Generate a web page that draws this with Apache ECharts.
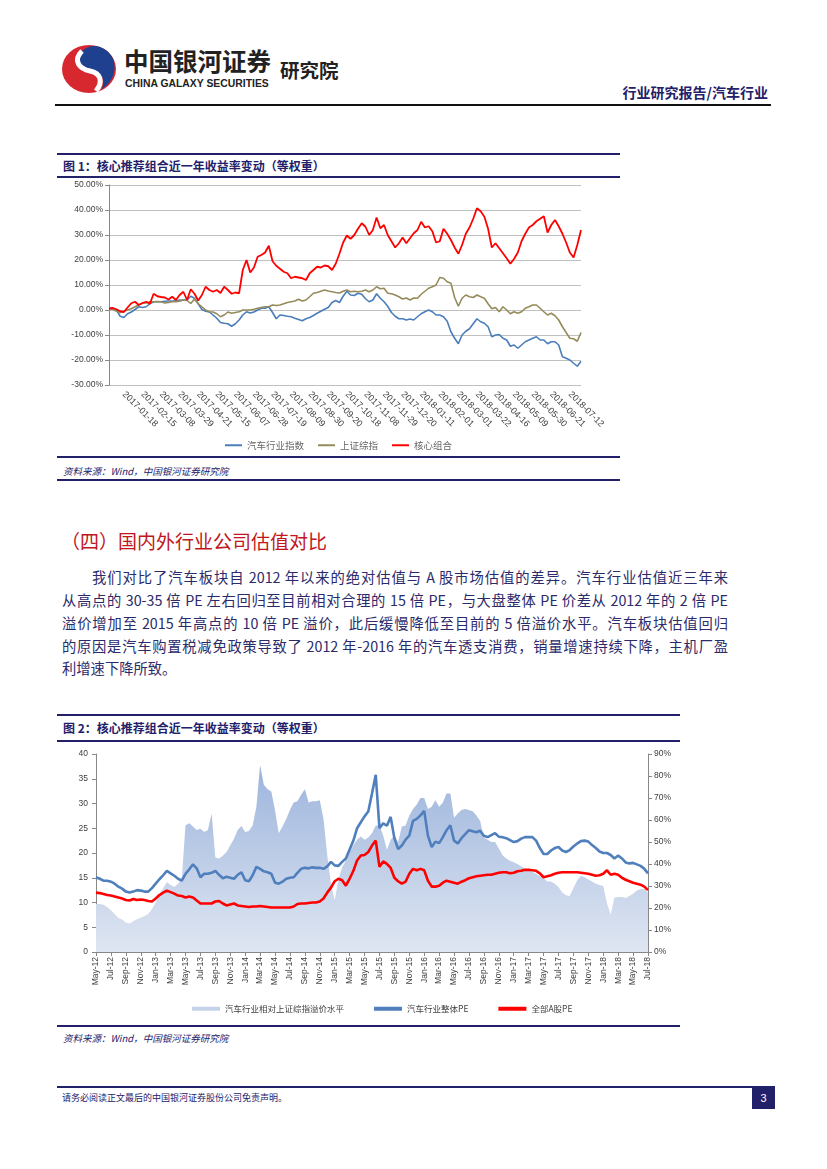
<!DOCTYPE html>
<html><head><meta charset="utf-8">
<script src="https://cdn.jsdelivr.net/npm/echarts@6/dist/echarts.min.js"></script>
<style>
html,body{margin:0;padding:0;background:#fff;}
#page{position:relative;width:827px;height:1169px;overflow:hidden;font-family:"Noto Sans CJK SC","Noto Sans",sans-serif;}
.abs{position:absolute;white-space:nowrap;}
.hl{position:absolute;background:#23206a;}
.para{position:absolute;font-size:14.3px;line-height:16px;color:#2b2a6b;text-align:justify;text-align-last:justify;white-space:nowrap;}
</style></head>
<body><div id="page">
<svg class="abs" style="left:60px;top:43px" width="58" height="52" viewBox="0 0 58 52">
  <ellipse cx="29" cy="26" rx="27" ry="24" fill="#d7282f"/>
  <path d="M40 4 C58 10 60 34 42 46 C46 34 40 28 30 26 C20 24 14 18 22 8 C28 3 34 2 40 4 Z" fill="#1f3f8f"/>
  <path d="M22 8 C12 18 20 26 30 28 C40 30 44 38 36 48" stroke="#fff" stroke-width="5" fill="none"/>
</svg>
<div class="abs" style="left:124px;top:47px;font-size:24.5px;line-height:28px;font-weight:bold;color:#222;">中国银河证券</div>
<div class="abs" style="left:125px;top:78px;font-size:10.4px;line-height:11px;font-weight:bold;color:#222;font-family:'Liberation Sans',Arial,sans-serif;">CHINA GALAXY SECURITIES</div>
<div class="abs" style="left:280px;top:59px;font-size:19.5px;line-height:22px;font-weight:bold;color:#222;">研究院</div>
<div class="abs" style="right:59px;top:84px;font-size:14px;line-height:16px;font-weight:bold;color:#23206a;">行业研究报告/汽车行业</div>
<div class="hl" style="left:55px;top:104px;width:716px;height:2px;background:#111;"></div>

<div class="hl" style="left:57px;top:153px;width:563px;height:2px;"></div>
<div class="abs" style="left:63px;top:159px;font-size:12px;line-height:14px;font-weight:bold;color:#23206a;">图 1：核心推荐组合近一年收益率变动（等权重）</div>
<div class="hl" style="left:57px;top:176px;width:563px;height:2px;"></div>
<div id="c1" class="abs" style="left:57px;top:179px;width:563px;height:276px;"></div>
<div class="hl" style="left:57px;top:456px;width:563px;height:2px;"></div>
<div class="abs" style="left:63px;top:465px;font-size:9.5px;line-height:12px;font-style:italic;color:#23206a;">资料来源：Wind，中国银河证券研究院</div>
<div class="hl" style="left:57px;top:479px;width:563px;height:2px;"></div>

<div class="abs" style="left:61px;top:530px;font-size:19px;line-height:22px;color:#c0161c;">（四）国内外行业公司估值对比</div>
<div class="para" style="left:92px;top:569px;width:636px;">我们对比了汽车板块自 2012 年以来的绝对估值与 A 股市场估值的差异。汽车行业估值近三年来</div>
<div class="para" style="left:62px;top:592px;width:666px;">从高点的 30-35 倍 PE 左右回归至目前相对合理的 15 倍 PE，与大盘整体 PE 价差从 2012 年的 2 倍 PE</div>
<div class="para" style="left:62px;top:615px;width:666px;">溢价增加至 2015 年高点的 10 倍 PE 溢价，此后缓慢降低至目前的 5 倍溢价水平。汽车板块估值回归</div>
<div class="para" style="left:62px;top:638px;width:666px;">的原因是汽车购置税减免政策导致了 2012 年-2016 年的汽车透支消费，销量增速持续下降，主机厂盈</div>
<div class="para" style="left:62px;top:660px;text-align-last:left;">利增速下降所致。</div>

<div class="hl" style="left:57px;top:714px;width:623px;height:2px;"></div>
<div class="abs" style="left:63px;top:721px;font-size:12px;line-height:14px;font-weight:bold;color:#23206a;">图 2：核心推荐组合近一年收益率变动（等权重）</div>
<div class="hl" style="left:57px;top:740px;width:623px;height:2px;"></div>
<div id="c2" class="abs" style="left:57px;top:743px;width:623px;height:281px;"></div>
<div class="hl" style="left:57px;top:1025px;width:623px;height:2px;"></div>
<div class="abs" style="left:63px;top:1032px;font-size:9.5px;line-height:12px;font-style:italic;color:#23206a;">资料来源：Wind，中国银河证券研究院</div>

<div class="hl" style="left:57px;top:1086px;width:718px;height:2px;"></div>
<div class="abs" style="left:62px;top:1092px;font-size:9px;line-height:11px;color:#23206a;">请务必阅读正文最后的中国银河证券股份公司免责声明。</div>
<div class="abs" style="left:752px;top:1088px;width:23px;height:21px;background:#23206a;color:#fff;font-size:11px;line-height:21px;text-align:center;font-family:'Liberation Sans',Arial,sans-serif;">3</div>
</div>
<script>
// ---------- Chart 1 data (percent) ----------
const dates1 = ['2017-01-18','2017-02-15','2017-03-08','2017-03-29','2017-04-21','2017-05-15','2017-06-07','2017-06-28','2017-07-19','2017-08-09','2017-08-30','2017-09-20','2017-10-18','2017-11-08','2017-11-29','2017-12-20','2018-01-11','2018-02-01','2018-03-01','2018-03-22','2018-04-16','2018-05-09','2018-05-30','2018-06-21','2018-07-12'];
const names1 = ['汽车行业指数','上证综指','核心组合'];
const autoIdx = [0.7,0.8,0,-2.5,-3.0,-1.5,-0.8,0.2,1.3,1.0,
1.3,2.5,3.3,3.3,3.3,3.5,3.6,3.6,3.6,4.0,
4.0,4.0,5.5,4.7,2.5,0.2,-0.5,-0.8,-2.0,-3.3,
-5.0,-5.3,-5.5,-6.5,-5.5,-4.0,-2.0,-0.7,-1.2,-0.8,
0,0.7,0.7,1.3,-1.0,-3.5,-2.0,-2.2,-2.5,-2.7,
-3.3,-3.8,-4.3,-3.5,-3.0,-2.2,-1.3,-0.5,0.3,1.0,
3.0,3.8,3.0,5.5,7.5,6.0,5.8,6.7,6.3,4.5,
3.3,4.0,6.5,4.7,3.3,1.5,-1.0,-2.5,-3.5,-3.5,
-4.0,-3.6,-4.0,-2.7,-1.5,-0.7,0,-0.7,-2.0,-2.0,
-2.7,-4.5,-8.7,-11.3,-13.5,-10.0,-8.5,-7.5,-5.5,-3.5,
-4.7,-5.3,-6.7,-10.7,-10.0,-9.8,-11.3,-12.0,-14.5,-14.0,
-15.3,-14.0,-12.7,-12.0,-11.3,-10.7,-12.0,-12.0,-13.5,-12.7,
-12.7,-14.0,-18.7,-19.3,-20.0,-21.3,-22.5,-20.5];
const shIdx = [0.5,0.3,-0.5,-1.0,-0.5,0,0.5,1.3,2.0,2.7,
2.8,3.3,3.3,3.4,3.3,2.8,3.0,3.3,3.3,3.5,
4.0,3.8,2.6,4.4,2.5,1.3,0,-0.7,-0.8,-1.5,
-2.7,-2.0,-0.8,-1.3,-1.0,-0.7,0,0,0,0.3,
0.7,1.0,1.3,1.3,2.0,1.8,2.0,2.5,3.0,3.3,
3.6,4.3,3.6,4.0,5.3,6.7,7.0,7.5,8.0,7.6,
7.3,7.0,6.8,7.5,8.0,7.3,7.5,7.3,7.5,8.0,
7.3,8.0,9.3,8.5,8.7,6.7,6.5,6.0,5.3,4.4,
4.8,4.0,4.8,4.7,6.3,7.5,8.7,9.3,10.0,13.0,
12.7,11.3,10.7,5.0,1.5,4.7,6.0,5.3,5.0,6.0,
5.3,4.7,2.5,0.5,1.0,-0.7,1.3,0,-1.5,-0.7,
-1.3,-0.7,0.7,1.3,2.0,2.0,0.7,-0.7,-2.0,-1.3,
-2.3,-4.0,-6.7,-9.0,-11.3,-11.5,-12.5,-9.0];
const corePf = [0.5,0.8,0.3,-0.5,-0.8,1.0,2.7,3.3,2.0,2.8,
3.3,2.5,6.5,5.5,5.2,5.0,4.2,5.3,4.0,6.0,
7.3,4.0,8.3,6.5,3.8,6.0,9.3,8.0,7.3,8.0,
6.8,9.3,8.0,6.5,7.0,6.7,16.0,20.0,15.0,17.0,
21.3,22.0,23.0,25.7,19.5,17.7,16.5,15.3,14.7,12.7,
13.3,13.0,12.7,12.0,14.7,16.0,17.3,17.0,17.8,17.5,
16.0,18.5,22.5,27.0,29.8,28.5,30.0,32.5,34.7,33.3,
30.0,32.0,37.0,32.7,34.0,30.0,27.5,25.0,26.7,29.0,
26.7,28.7,30.7,32.0,35.3,33.0,33.5,31.5,27.0,27.5,
32.5,30.5,28.0,25.0,22.5,26.0,30.5,33.0,36.5,40.7,
39.5,37.3,32.5,25.0,26.7,24.7,22.7,20.7,18.5,20.5,
23.0,27.5,30.5,33.0,34.0,35.5,36.5,37.5,31.0,34.0,
36.0,33.5,30.5,27.0,23.0,21.0,26.0,32.0];

// ---------- Chart 2 data ----------
const months2 = ['May-12','Jul-12','Sep-12','Nov-12','Jan-13','Mar-13','May-13','Jul-13','Sep-13','Nov-13','Jan-14','Mar-14','May-14','Jul-14','Sep-14','Nov-14','Jan-15','Mar-15','May-15','Jul-15','Sep-15','Nov-15','Jan-16','Mar-16','May-16','Jul-16','Sep-16','Nov-16','Jan-17','Mar-17','May-17','Jul-17','Sep-17','Nov-17','Jan-18','Mar-18','May-18','Jul-18'];
const names2 = ['汽车行业相对上证综指溢价水平','汽车行业整体PE','全部A股PE'];
const premium = [21.8,21.8,21.5,20.5,19.0,17.3,15.5,14.8,13.4,12.9,
14.0,14.9,15.6,16.4,17.3,19.5,22.5,26.0,29.0,31.7,
30.5,29.5,31.0,33.5,57.6,58.5,57.0,55.5,56.0,54.5,
55.5,63.0,43.0,42.5,43.8,45.5,48.5,51.5,55.5,57.3,
54.5,55.0,57.5,66.0,85.0,76.0,74.0,73.0,64.4,54.0,
57.0,60.5,64.5,68.0,68.5,71.5,74.0,68.0,68.5,68.5,
69.0,60.5,44.0,31.0,23.5,33.0,38.5,41.5,45.5,48.5,
51.0,52.5,51.0,52.0,54.0,57.5,57.5,53.0,46.5,51.0,
53.0,50.0,57.0,57.5,62.0,65.0,67.0,70.0,70.0,65.0,
66.0,69.0,66.0,68.0,72.0,72.0,61.0,63.0,64.5,65.0,
64.5,64.0,62.0,59.5,52.0,51.0,50.0,50.0,47.0,44.0,
42.5,41.5,40.8,40.0,39.0,38.0,37.0,36.5,35.5,34.5,
33.5,32.0,32.0,31.0,29.5,27.0,25.8,25.5,29.0,32.5,
34.7,34.0,33.0,32.0,31.0,30.5,30.0,22.0,17.0,24.8,
25.0,25.0,24.5,25.5,26.5,28.0,28.6,28.6,27.0];
const autoPE = [15.1,14.8,14.4,14.4,14.2,13.8,13.2,12.8,12.2,12.0,
12.2,12.5,12.4,12.2,12.2,12.9,13.8,14.7,15.5,16.4,
15.9,15.4,14.8,14.4,15.8,16.7,17.7,16.9,15.1,15.8,
15.8,16.0,16.4,15.6,14.9,15.2,15.0,14.8,15.6,16.1,
14.5,14.3,15.5,17.2,16.8,16.3,16.1,15.8,14.0,13.8,
14.2,14.8,15.0,15.1,16.0,16.8,17.0,16.9,17.1,17.0,
17.0,16.8,17.3,18.2,17.5,17.4,18.2,18.9,20.7,22.5,
25.0,26.2,27.4,28.4,32.0,35.8,25.0,26.0,25.5,27.3,
23.0,20.8,21.5,22.7,23.5,26.5,26.9,27.6,28.5,23.5,
21.2,22.3,22.0,23.2,24.6,25.6,22.5,21.9,23.0,23.8,
24.6,24.4,24.2,24.5,23.5,23.2,23.6,24.0,23.3,23.2,
23.0,22.6,22.2,22.4,22.9,23.2,23.2,23.2,22.5,21.0,
19.8,19.8,20.5,21.0,21.2,20.5,20.2,20.6,21.3,21.9,
22.4,22.5,22.3,21.6,21.0,20.3,20.0,20.0,19.6,18.9,
19.5,18.9,18.1,17.9,18.0,17.7,17.4,16.8,15.9];
const allAPE = [12.0,11.9,11.7,11.5,11.4,11.2,11.0,10.8,10.5,10.4,
10.7,10.5,10.6,10.5,10.3,10.2,10.8,11.5,12.0,12.4,
12.1,11.8,11.4,11.3,11.0,11.2,11.0,10.4,9.8,9.8,
9.8,9.8,10.2,10.3,9.8,9.4,9.6,9.8,9.4,9.3,
9.2,9.1,9.2,9.2,9.3,9.2,9.1,9.0,9.0,9.0,
9.0,9.0,9.0,9.2,9.7,9.8,9.8,9.9,10.0,10.0,
10.2,10.8,12.0,13.0,14.3,14.8,14.5,13.4,14.8,16.4,
18.5,19.5,19.6,20.2,21.5,22.5,17.2,18.3,17.8,17.0,
15.0,14.3,13.8,14.2,15.8,16.8,16.5,16.8,16.5,14.4,
13.2,13.2,13.4,14.0,14.4,14.2,14.0,13.8,14.2,14.5,
14.9,15.1,15.3,15.4,15.5,15.6,15.6,15.8,16.0,16.1,
16.1,15.9,16.0,16.3,16.4,16.6,16.6,16.5,16.4,15.9,
15.1,15.3,15.5,15.8,16.0,16.1,16.1,16.1,16.1,16.1,
16.0,15.9,15.8,15.6,15.4,15.5,15.8,16.5,15.6,15.8,
15.6,15.0,14.6,14.3,14.0,13.8,13.6,13.2,12.5];

// category axes built from label arrays
const cats1 = corePf.map(() => '');
dates1.forEach((d, k) => { cats1[4 + 5 * k] = d; });
const cats2 = premium.map(() => '');
months2.forEach((m, k) => { cats2[4 * k] = m; });

const lab = {fontFamily:'Liberation Sans, Arial, sans-serif', color:'#404040'};

const c1 = echarts.init(document.getElementById('c1'), null, {renderer:'canvas'});
c1.setOption({
  animation:false,
  grid:{left:52,right:39,top:6,bottom:70,containLabel:false},
  legend:{bottom:0,left:'center',itemWidth:17,itemHeight:2,itemGap:14,icon:'rect',
    textStyle:{fontSize:9.5,color:'#666',fontFamily:'Noto Sans CJK SC'},data:names1},
  xAxis:{type:'category',data:cats1,boundaryGap:false,
    axisLine:{show:false},axisTick:{show:false},
    axisLabel:Object.assign({fontSize:9,rotate:-45,margin:8,interval:(i,v)=>v!==''},lab)},
  yAxis:{type:'value',min:-30,max:50,interval:10,
    axisLine:{show:true,lineStyle:{color:'#888',width:1}},
    axisTick:{show:true,length:4,lineStyle:{color:'#888'}},
    splitLine:{lineStyle:{color:'#c0c0c0',width:1}},
    axisLabel:Object.assign({fontSize:8.5,margin:6,formatter:v=>v.toFixed(2)+'%'},lab)},
  series:[
    {name:names1[0],type:'line',data:autoIdx,showSymbol:false,lineStyle:{color:'#4a7ebb',width:1.6},itemStyle:{color:'#4a7ebb'}},
    {name:names1[1],type:'line',data:shIdx,showSymbol:false,lineStyle:{color:'#958b5a',width:1.6},itemStyle:{color:'#958b5a'}},
    {name:names1[2],type:'line',data:corePf,showSymbol:false,lineStyle:{color:'#ff0000',width:1.8},itemStyle:{color:'#ff0000'}}
  ]
});

const c2 = echarts.init(document.getElementById('c2'), null, {renderer:'canvas'});
c2.setOption({
  animation:false,
  grid:{left:39,right:32,top:11,bottom:72,containLabel:false},
  legend:{bottom:6,left:130,itemWidth:28,itemHeight:4,itemGap:30,
    textStyle:{fontSize:8.5,color:'#404040',fontFamily:'Noto Sans CJK SC'},
    data:[{name:names2[0],icon:'rect',itemStyle:{color:'#c5d3ea'}},{name:names2[1],icon:'rect'},{name:names2[2],icon:'rect'}]},
  xAxis:{type:'category',data:cats2,boundaryGap:false,
    axisLine:{show:true,lineStyle:{color:'#888'}},
    axisTick:{show:true,length:4,interval:(i,v)=>v!=='',lineStyle:{color:'#888'}},
    axisLabel:Object.assign({fontSize:8.5,rotate:90,margin:5,interval:(i,v)=>v!==''},lab)},
  yAxis:[
    {type:'value',min:0,max:40,interval:5,
      axisLine:{show:true,lineStyle:{color:'#888'}},axisTick:{show:true,length:4,lineStyle:{color:'#888'}},
      splitLine:{show:false},axisLabel:Object.assign({fontSize:8.5,margin:8},lab)},
    {type:'value',min:0,max:90,interval:10,position:'right',
      axisLine:{show:true,lineStyle:{color:'#888'}},axisTick:{show:true,length:4,lineStyle:{color:'#888'}},
      splitLine:{show:false},axisLabel:Object.assign({fontSize:8.5,margin:6,formatter:'{value}%'},lab)}
  ],
  series:[
    {name:names2[0],type:'line',yAxisIndex:1,data:premium,showSymbol:false,z:1,
      lineStyle:{width:0},itemStyle:{color:'#c5d3ea'},
      areaStyle:{opacity:1,color:new echarts.graphic.LinearGradient(0,0,0,1,[{offset:0,color:'#9cb4dc'},{offset:1,color:'#dfe6f2'}])}},
    {name:names2[1],type:'line',yAxisIndex:0,data:autoPE,showSymbol:false,z:3,lineStyle:{color:'#4f7fbc',width:2.6},itemStyle:{color:'#4f7fbc'}},
    {name:names2[2],type:'line',yAxisIndex:0,data:allAPE,showSymbol:false,z:4,lineStyle:{color:'#ff0000',width:2.6},itemStyle:{color:'#ff0000'}}
  ]
});
</script>
</body></html>
